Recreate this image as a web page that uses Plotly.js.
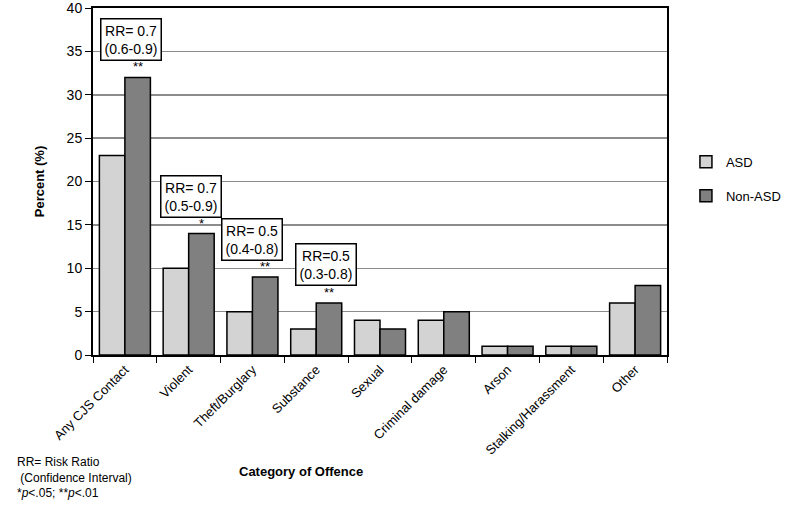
<!DOCTYPE html>
<html><head><meta charset="utf-8">
<script src="https://cdn.plot.ly/plotly-3.0.1.min.js"></script>
<style>body{margin:0;background:#fff}#chart{width:794px;height:515px}</style>
</head><body><div id="chart"></div>
<script>
const categories = ["Any CJS Contact","Violent","Theft/Burglary","Substance","Sexual","Criminal damage","Arson","Stalking/Harassment","Other"];
const asd = [23,10,5,3,4,4,1,1,6];
const nonAsd = [32,14,9,6,3,5,1,1,8];
const yTicks = [0,5,10,15,20,25,30,35,40];
const rrLabels = ["RR= 0.7<br>(0.6-0.9)","RR= 0.7<br>(0.5-0.9)","RR= 0.5<br>(0.4-0.8)","RR=0.5<br>(0.3-0.8)"];
const rrIndex = [0,1,2,3];
const rrY = [36.4,18.3,13.3,10.4];
const rrXOffset = [0.1,0.04,0.0,0.16];
const sigStars = ["**","*","**","**"];

const font = "Liberation Sans, Arial, sans-serif";
const annotations = [];
rrIndex.forEach((c,k)=>{
  annotations.push({x:c+rrXOffset[k], y:rrY[k], xref:'x', yref:'y', text:rrLabels[k], showarrow:false,
    bordercolor:'#000', borderwidth:1.5, bgcolor:'#fff', borderpad:3, font:{family:font,size:14,color:'#000'}});
  annotations.push({x:c+0.2, y:nonAsd[c], xref:'x', yref:'y', text:sigStars[k], showarrow:false,
    yanchor:'bottom', yshift:1, font:{family:font,size:13,color:'#000'}});
});
annotations.push({x:0.25, y:-0.363, xref:'paper', yref:'paper', text:'<b>Category of Offence</b>', showarrow:false,
  font:{family:font,size:13,color:'#000'}});
annotations.push({x:-0.1365, y:-0.283, xref:'paper', yref:'paper', xanchor:'left', yanchor:'top', align:'left',
  text:'RR= Risk Ratio<br> (Confidence Interval)<br>*<i>p</i><.05; **<i>p</i><.01', showarrow:false,
  font:{family:font,size:12,color:'#000'}});

const data = [
  {type:'bar', name:'ASD', x:categories, y:asd, legendgroup:'a',
   marker:{color:'#d3d3d3', line:{color:'#000', width:1.5}}},
  {type:'bar', name:'Non-ASD', x:categories, y:nonAsd, legendgroup:'b',
   marker:{color:'#808080', line:{color:'#000', width:1.5}}}
];
const layout = {
  width:794, height:515,
  margin:{l:93, r:115, t:8, b:160},
  paper_bgcolor:'#fff', plot_bgcolor:'#fff',
  font:{family:font, color:'#000'},
  bargap:0.2, bargroupgap:0,
  xaxis:{type:'category', tickson:'boundaries', ticks:'outside', ticklen:6, tickcolor:'#000',
    tickangle:-45, tickfont:{family:font,size:13}, showline:true, linecolor:'#000', linewidth:2, mirror:true,
    showgrid:false, zeroline:false},
  yaxis:{range:[0,40], tickmode:'array', tickvals:yTicks, ticktext:yTicks.map(String), ticks:'outside', ticklen:6, tickcolor:'#000', tickfont:{family:font,size:14},
    ticklabeloverflow:'allow',
    showline:true, linecolor:'#000', linewidth:2, mirror:true, showgrid:true, gridcolor:'#8c8c8c', gridwidth:1.5,
    zeroline:false,
    title:{text:'<b>Percent (%)</b>', font:{family:font,size:13}, standoff:19}},
  showlegend:true,
  legend:{x:1.033, y:0.6, xanchor:'left', yanchor:'top', traceorder:'grouped', tracegroupgap:14,
    font:{family:font,size:13}, bgcolor:'rgba(0,0,0,0)'},
  annotations:annotations
};
Plotly.newPlot('chart', data, layout, {displayModeBar:false, staticPlot:true});
</script></body></html>
